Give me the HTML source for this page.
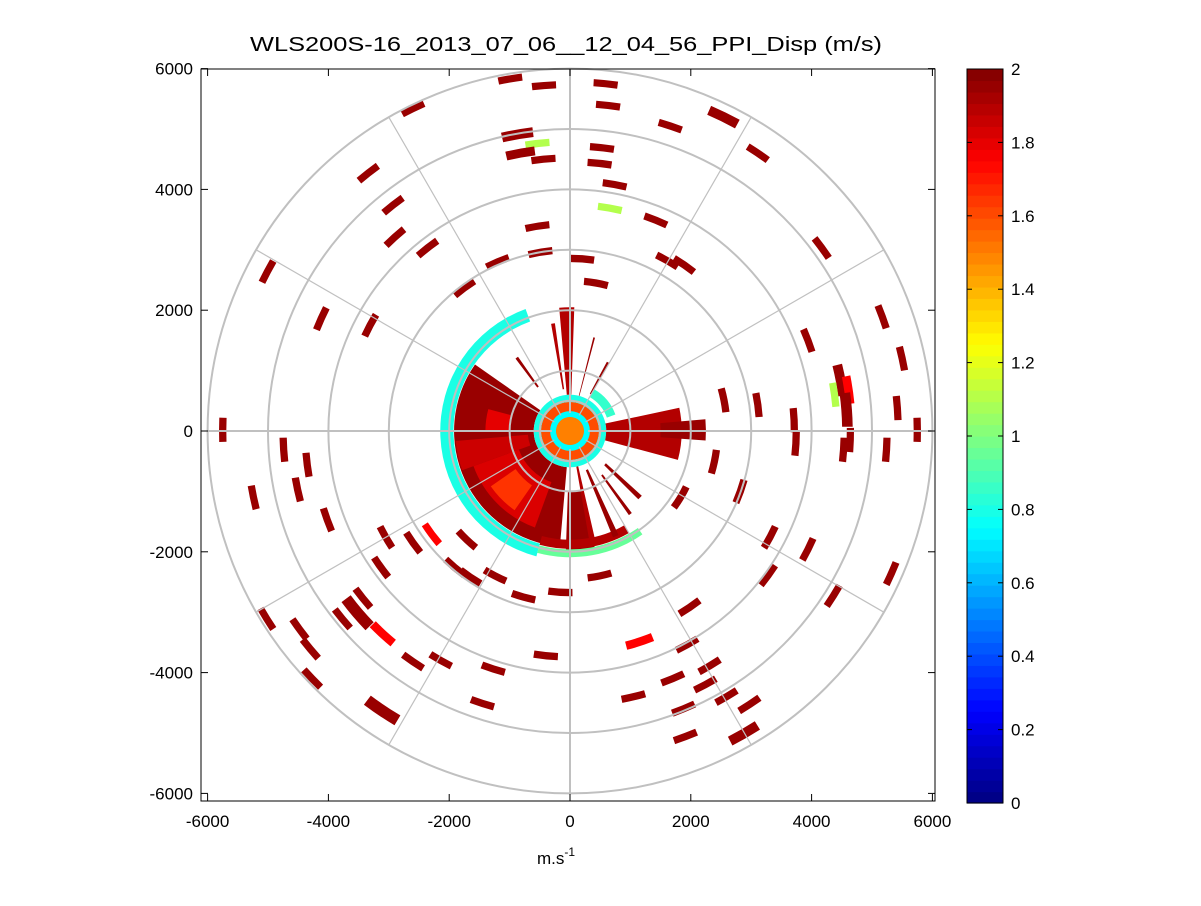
<!DOCTYPE html>
<html><head><meta charset="utf-8"><style>
html,body{margin:0;padding:0;background:#fff;}
svg text{font-family:"Liberation Sans",Arial,sans-serif;}
</style></head><body>
<svg id="chart" width="1201" height="901" viewBox="0 0 1201 901" xmlns="http://www.w3.org/2000/svg">
<rect width="1201" height="901" fill="#fff"/>
<text x="566" y="51" text-anchor="middle" font-size="20" textLength="632" lengthAdjust="spacingAndGlyphs">WLS200S-16_2013_07_06__12_04_56_PPI_Disp (m/s)</text>
<defs><clipPath id="plotclip"><rect x="201" y="69" width="734" height="732"/></clipPath></defs>
<g id="plot" clip-path="url(#plotclip)"></g>
<g id="grid"></g>
<g id="axes"></g>
<g id="cbar"></g>
<text x="556" y="864" text-anchor="middle" font-size="17">m.s<tspan dy="-8" font-size="12">-1</tspan></text>
</svg>
<script>
// ---- data ----
const xTicks=[-6000,-4000,-2000,0,2000,4000,6000];
const yTicks=[-6000,-4000,-2000,0,2000,4000,6000];
const cbTicks=[0,0.2,0.4,0.6,0.8,1,1.2,1.4,1.6,1.8,2];
const ringRadii=[500,1000,2000,3000,4000,5000,6000];
const spokeAngles=[0,30,60,90,120,150,180,210,240,270,300,330];
// dense wedges: angle start, angle end (deg), r start, r end, value
const wedgeA0=[145,200,215,165,185,-15,-4,88,268,255,0,110,255,0,0,0,350,20,292,305,98,125,60,75,280,315];
const wedgeA1=[265,250,235,180,200,12,5,95,282,300,360,255,305,360,360,360,362,60,295,307,100,127,62,76,283,318];
const wedgeR0=[600,900,1100,1000,700,600,1500,600,1000,1800,0,1930,1960,480,230,0,600,650,700,900,700,900,700,600,600,800];
const wedgeR1=[1920,1700,1600,1400,1900,1850,2250,2050,2000,1950,480,2150,2090,600,330,230,1500,800,1900,1700,1800,1500,1300,1600,1900,1600];
const wedgeV=[1.95,1.82,1.65,1.8,1.85,1.9,1.95,1.9,1.95,1.9,1.6,0.8,0.95,0.8,0.75,1.5,1.9,0.85,1.95,1.95,1.9,1.95,1.95,1.95,1.9,1.95];
// scattered range gates (metres)
const gateX=[-2600,-870,-540,-820,-440,-990,-430,590,630,2540,1660,530,490,740,660,1420,3110,-3340,-2930,-2900,-2360,-5010,-4120,-3310,-1750,-1200,-540,-490,430,200,1610,1890,4170,5170,5500,3940,4480,4610,4580,5420,5750,3710,3110,2550,5240,4640,4530,3740,2390,2820,1830,3310,3940,5320,4360,3280,1150,1980,1940,2310,1700,1050,490,-160,-770,-400,-1270,-1450,-2140,-2600,-3100,-3520,-3770,-3430,-3130,-2600,-3050,-2290,-1710,-1240,-1650,-4020,-4510,-4740,-5240,-4350,-5750,-5020,-4480,-4300,-4270,-3110,1910,2880,2970,2590,1880,2240,-1910,4380];
const gateY=[5340,4910,4760,4600,4500,5830,5720,5750,5390,5200,5050,4690,4430,4080,3690,3490,4600,4270,3740,3210,3030,2640,1860,1750,2370,2800,3390,2960,2450,2850,2820,2750,3030,1890,1200,1500,840,680,350,380,20,180,430,510,-310,-150,-310,-210,-510,-1000,-1100,-1760,-1960,-2360,-2730,-2390,-3490,-2920,-3540,-3890,-4100,-4400,-2400,-2670,-2750,-3720,-3940,-4510,-3800,-3820,-3360,-3010,-3110,-2770,-2260,-1850,-1760,-1710,-1800,-2400,-2420,-1470,-970,-310,-1100,-560,20,-3110,-3280,-3610,-4100,-4630,-5060,-5010,-4530,-4400,-4600,-4200,-2260,600];
const gateV=[1.95,1.95,1.1,1.95,1.95,1.95,1.95,1.95,1.95,1.95,1.95,1.95,1.95,1.95,1.1,1.95,1.95,1.95,1.95,1.95,1.95,1.95,1.95,1.95,1.95,1.95,1.95,1.95,1.95,1.95,1.95,1.95,1.95,1.95,1.95,1.95,1.95,1.75,1.95,1.95,1.95,1.95,1.95,1.95,1.95,1.95,1.95,1.95,1.95,1.95,1.95,1.95,1.95,1.95,1.95,1.95,1.75,1.95,1.95,1.95,1.95,1.95,1.95,1.95,1.95,1.95,1.95,1.95,1.95,1.95,1.75,1.95,1.95,1.95,1.95,1.95,1.95,1.75,1.95,1.95,1.95,1.95,1.95,1.95,1.95,1.95,1.95,1.95,1.95,1.95,1.95,1.95,1.95,1.95,1.95,1.95,1.95,1.95,1.95,1.1];
const gateS=[1,1.6,1,1.4,1,1,1,1,1,1.6,1,1,1,1,1,1,1,1,1,1,1,1,1,1,1,1,1,1,1,1,1,1,1,1,1,1,1.6,1.3,1.8,1,1,1,1,1,1,1,1,1,1,1,1,1,1,1,1,1,1.3,1,1,1,1,1,1,1,1,1,1,1,1,1,1.3,2,1,1,1,1,1,1,1,1,1,1,1,1,1,1,1,1,1,1,1,2,1,1.6,1,1,1,1,1,1];
// ---- scales ----
const cx=570, cy=431, k=0.0604;
const X=v=>cx+v*k, Y=v=>cy-v*k;
const NS="http://www.w3.org/2000/svg";
function mk(t,a,p){const e=document.createElementNS(NS,t);for(const n in a)e.setAttribute(n,a[n]);p.appendChild(e);return e;}
function jet(v){let t=Math.max(0,Math.min(1,v/2));
 const f=x=>Math.max(0,Math.min(1,1.5-Math.abs(4*t-x)));
 return `rgb(${Math.round(255*f(3))},${Math.round(255*f(2))},${Math.round(255*f(1))})`;}
function sector(a0,a1,r0,r1){
 const A0=a0*Math.PI/180,A1=a1*Math.PI/180;const large=(a1-a0)>180?1:0;
 const p=(r,a)=>`${X(r*Math.cos(a)).toFixed(1)},${Y(r*Math.sin(a)).toFixed(1)}`;
 if(a1-a0>=360){return `M${X(r1)},${cy} A${r1*k},${r1*k} 0 1 0 ${X(-r1)},${cy} A${r1*k},${r1*k} 0 1 0 ${X(r1)},${cy} Z`+(r0>0?` M${X(r0)},${cy} A${r0*k},${r0*k} 0 1 1 ${X(-r0)},${cy} A${r0*k},${r0*k} 0 1 1 ${X(r0)},${cy} Z`:'');}
 return `M${p(r1,A0)} A${r1*k},${r1*k} 0 ${large} 0 ${p(r1,A1)} L${p(r0,A1)} A${r0*k},${r0*k} 0 ${large} 1 ${p(r0,A0)} Z`;}
const plot=document.getElementById('plot');
for(let i=0;i<wedgeV.length;i++){
 const e=mk('path',{d:sector(wedgeA0[i],wedgeA1[i],wedgeR0[i],wedgeR1[i]),fill:jet(wedgeV[i]),'fill-rule':'evenodd'},plot);
 
 
}
for(let i=0;i<gateV.length;i++){
 const r=Math.hypot(gateX[i],gateY[i]);const a=Math.atan2(gateY[i],gateX[i])*180/Math.PI;
 const s=gateS[i];const dr=35*s+25;const da=(200*s+200)/r*180/Math.PI;
 const e=mk('path',{d:sector(a-da/2,a+da/2,r-dr,r+dr),fill:jet(gateV[i])},plot);
 
 
}
// grid
const grid=document.getElementById('grid');
for(const a of spokeAngles){const t=a*Math.PI/180;
 const e=mk('line',{x1:X(300*Math.cos(t)),y1:Y(300*Math.sin(t)),x2:X(6000*Math.cos(t)),y2:Y(6000*Math.sin(t)),stroke:'#c0c0c0','stroke-width':a%90===0?2:1.2},grid);
 
 }
for(const r of ringRadii){
 const e=mk('circle',{cx:cx,cy:cy,r:r*k,fill:'none',stroke:'#c0c0c0','stroke-width':2},grid);
 
 }
// axes
const ax=document.getElementById('axes');
const box=mk('rect',{x:201,y:69,width:734,height:732,fill:'none',stroke:'#000','stroke-width':1},ax);


for(const v of xTicks){const x=X(v);
 mk('line',{x1:x,y1:801,x2:x,y2:794,stroke:'#000'},ax);mk('line',{x1:x,y1:69,x2:x,y2:76,stroke:'#000'},ax);
 const t=mk('text',{x:x,y:827,'text-anchor':'middle','font-size':17},ax);t.textContent=v;
 
 }
for(const v of yTicks){const y=Y(v);
 mk('line',{x1:201,y1:y,x2:208,y2:y,stroke:'#000'},ax);mk('line',{x1:935,y1:y,x2:928,y2:y,stroke:'#000'},ax);
 const t=mk('text',{x:193,y:y+6,'text-anchor':'end','font-size':17},ax);t.textContent=v;
 
 }
// colorbar
const cb=document.getElementById('cbar');
const cbTop=69,cbBot=803,cbL=967,cbW=36,N=64;
for(let i=0;i<N;i++){const h=(cbBot-cbTop)/N;
 const e=mk('rect',{x:cbL,y:cbBot-(i+1)*h,width:cbW,height:h+0.6,fill:jet((i+0.5)/N*2)},cb);
 
 }
const cf=mk('rect',{x:cbL,y:cbTop,width:cbW,height:cbBot-cbTop,fill:'none',stroke:'#000'},cb);


for(const v of cbTicks){const y=cbBot-v/2*(cbBot-cbTop);
 mk('line',{x1:cbL,y1:y,x2:cbL+5,y2:y,stroke:'#000'},cb);mk('line',{x1:cbL+cbW,y1:y,x2:cbL+cbW-5,y2:y,stroke:'#000'},cb);
 const t=mk('text',{x:1011,y:y+6,'font-size':17},cb);t.textContent=v;
 
 }
</script>
</body></html>
